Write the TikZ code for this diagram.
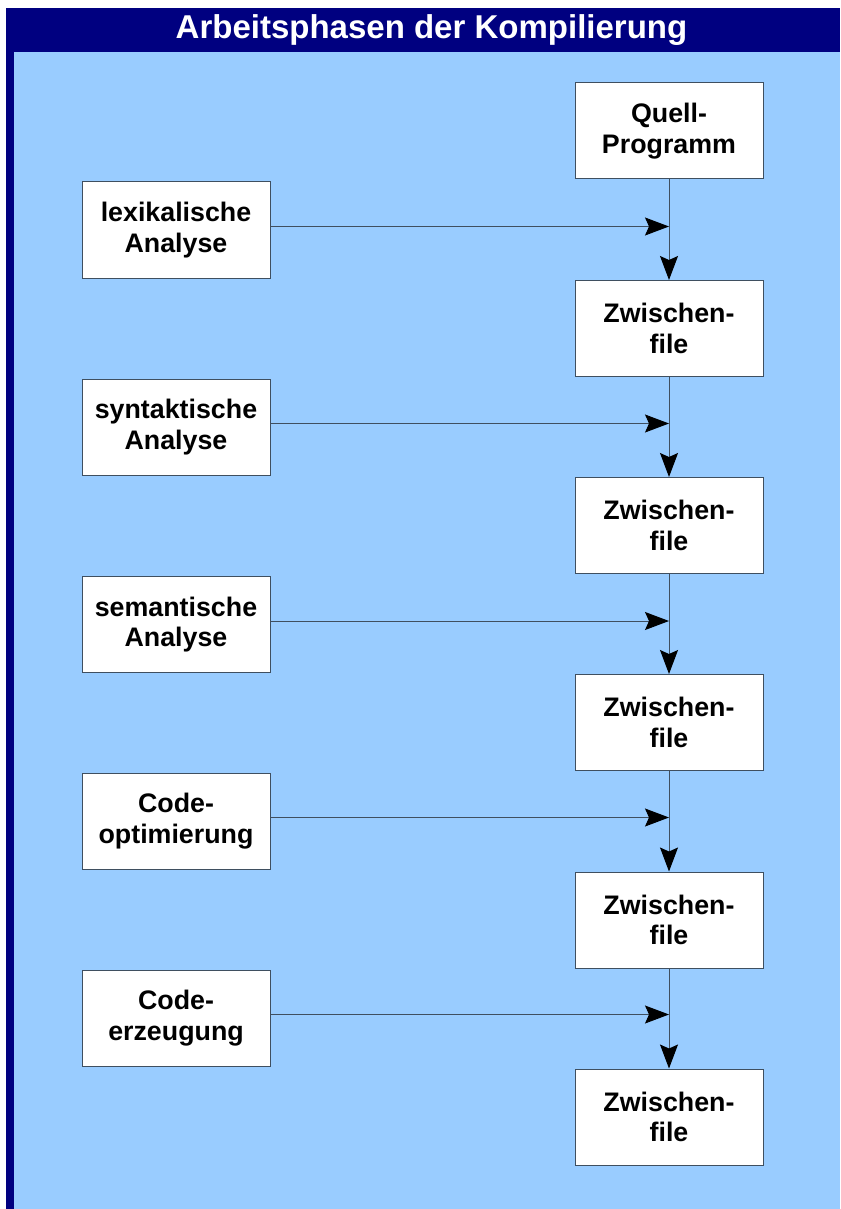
\documentclass[tikz,border=0pt]{standalone}
\usepackage{fontspec}
\setmainfont{Liberation Sans}
\usetikzlibrary{arrows.meta}
\definecolor{navy}{HTML}{000080}
\definecolor{bg}{HTML}{99CCFF}
\definecolor{edge}{HTML}{3F4F60}
\begin{document}
\begin{tikzpicture}[x=1pt,y=-1pt,
  box/.style={draw=edge, line width=1pt, fill=white, minimum width=188pt, minimum height=96pt,
    inner sep=0pt, align=center, font=\bfseries\fontsize{26.8}{30.5}\selectfont},
  conn/.style={draw=edge, line width=1pt, -{Stealth[length=24pt,width=18pt,inset=4pt,color=black,fill=black]}}]
\useasboundingbox (0,0) rectangle (840,1209);
\fill[white] (0,0) rectangle (840,1209);
\fill[navy] (6,8) rectangle (840,1209);
\fill[bg] (14,52) rectangle (840,1209);
\node[text=white, font=\bfseries\fontsize{33}{36}\selectfont, inner sep=0pt] (title) at (431.5,30) {Arbeitsphasen der Kompilierung};
% right column
\node[box] (q0) at (669,131) {Quell-\\Programm};
\node[box] (z1) at (669,328.5) {Zwischen-\\file};
\node[box] (z2) at (669,525.5) {Zwischen-\\file};
\node[box] (z3) at (669,722.5) {Zwischen-\\file};
\node[box] (z4) at (669,920) {Zwischen-\\file};
\node[box] (z5) at (669,1117) {Zwischen-\\file};
% left column
\node[box] (l1) at (176,230) {lexikalische\\Analyse};
\node[box] (l2) at (176,427) {syntaktische\\Analyse};
\node[box] (l3) at (176,624.5) {semantische\\Analyse};
\node[box] (l4) at (176,821) {Code-\\optimierung};
\node[box] (l5) at (176,1018) {Code-\\erzeugung};
% vertical connectors
\draw[conn] (q0) -- (z1);
\draw[conn] (z1) -- (z2);
\draw[conn] (z2) -- (z3);
\draw[conn] (z3) -- (z4);
\draw[conn] (z4) -- (z5);
% horizontal connectors
\foreach \i/\z in {1/q0,2/z1,3/z2,4/z3,5/z4}{
  \coordinate (a\i) at ([yshift=3.5pt]l\i.east);
  \coordinate (j\i) at (a\i -| \z.south);
  \draw[conn] (a\i) -- (j\i);
}
\end{tikzpicture}
\end{document}
